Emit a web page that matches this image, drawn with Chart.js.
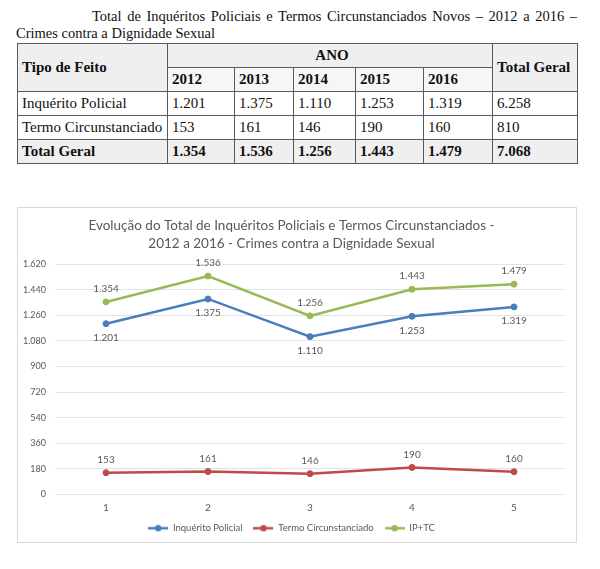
<!DOCTYPE html>
<html>
<head>
<meta charset="utf-8">
<script src="https://cdn.jsdelivr.net/npm/chart.js@4.4.1/dist/chart.umd.min.js"></script>
<style>
  body { margin: 0; background: #fff; width: 600px; height: 569px; position: relative; overflow: hidden; }
  #cap { position: absolute; left: 16px; top: 8px; width: 561px; font: 14.5px "Liberation Serif", serif; color: #111; line-height: 17px; }
  #cap .l1 { text-align: justify; text-align-last: justify; padding-left: 76px; }
  table { position: absolute; left: 17px; top: 43px; width: 560px; border-collapse: collapse; table-layout: fixed; font: 15px "Liberation Serif", serif; color: #111; }
  td, th { border: 1px solid #5a5a5a; height: 24px; padding: 0 0 0 4px; text-align: left; font-weight: normal; box-sizing: border-box; }
  th, tr.tot td { background: #efefef; font-weight: bold; }
  tr.yr th { background: #f6f6f6; }
  th.c { text-align: center; }
  #box { position: absolute; left: 17px; top: 207px; width: 558px; height: 334px; border: 1px solid #d9d9d9; }
</style>
</head>
<body>
<div id="cap">
  <div class="l1">Total de Inquéritos Policiais e Termos Circunstanciados Novos – 2012 a 2016 –</div>
  <div>Crimes contra a Dignidade Sexual</div>
</div>
<table id="tbl"></table>
<div id="box"><canvas id="chart"></canvas></div>
<script>
// Table and chart data
const years = ["2012", "2013", "2014", "2015", "2016"];
const xLabels = ["1", "2", "3", "4", "5"];
const inquerito = [1201, 1375, 1110, 1253, 1319];
const termo = [153, 161, 146, 190, 160];
const total = [1354, 1536, 1256, 1443, 1479];
const rowTotals = [6258, 810, 7068];
const yTicks = [0, 180, 360, 540, 720, 900, 1080, 1260, 1440, 1620];

const GRAY = "#595959";
const FONT = "Lato";

function fmt(v) {
    return String(v).replace(/\B(?=(\d{3})+(?!\d))/g, ".");
}

// build the table
(function buildTable() {
    const colW = [150, 67, 59, 62, 68, 69, 85];
    let h = '<colgroup>' + colW.map(w => `<col style="width:${w}px">`).join("") + '</colgroup>';
    h += '<tr><th rowspan="2">Tipo de Feito</th><th class="c" colspan="5">ANO</th><th rowspan="2">Total Geral</th></tr>';
    h += '<tr class="yr">' + years.map(y => `<th>${y}</th>`).join("") + '</tr>';
    const rows = [["Inquérito Policial", inquerito, rowTotals[0], ""],
                  ["Termo Circunstanciado", termo, rowTotals[1], ""],
                  ["Total Geral", total, rowTotals[2], "tot"]];
    for (const [name, vals, t, cls] of rows) {
        h += `<tr class="${cls}"><td>${name}</td>` + vals.map(v => `<td>${fmt(v)}</td>`).join("") + `<td>${fmt(t)}</td></tr>`;
    }
    document.getElementById("tbl").innerHTML = h;
})();

function legendIcon(color) {
    const c = document.createElement("canvas");
    c.width = 20; c.height = 8;
    const g = c.getContext("2d");
    g.strokeStyle = color; g.lineWidth = 2.5;
    g.beginPath(); g.moveTo(0, 4); g.lineTo(20, 4); g.stroke();
    g.fillStyle = color;
    g.beginPath(); g.arc(10, 4, 3.2, 0, Math.PI * 2); g.fill();
    return c;
}

// value labels above / below each point
const valueLabels = {
    id: "valueLabels",
    afterDatasetsDraw(chart) {
        const ctx = chart.ctx;
        ctx.save();
        ctx.font = `10px ${FONT}, sans-serif`;
        ctx.fillStyle = GRAY;
        ctx.textAlign = "center";
        ctx.textBaseline = "middle";
        chart.data.datasets.forEach((ds, i) => {
            const meta = chart.getDatasetMeta(i);
            meta.data.forEach((pt, j) => {
                const dy = ds.labelBelow ? 14 : -13;
                ctx.fillText(fmt(ds.data[j]), pt.x, pt.y + dy);
            });
        });
        ctx.restore();
    }
};

const series = [
    { label: "Inquérito Policial", data: inquerito, color: "#4a7ebb", below: true },
    { label: "Termo Circunstanciado", data: termo, color: "#be4b48", below: false },
    { label: "IP+TC", data: total, color: "#98b954", below: false }
];

new Chart(document.getElementById("chart"), {
    type: "line",
    data: {
        labels: xLabels,
        datasets: series.map(s => ({
            label: s.label,
            data: s.data,
            borderColor: s.color,
            backgroundColor: s.color,
            pointBackgroundColor: s.color,
            pointBorderColor: s.color,
            pointStyle: "circle",
            pointRadius: 3,
            pointBorderWidth: 1,
            borderWidth: 2.5,
            tension: 0,
            labelBelow: s.below
        }))
    },
    options: {
        responsive: true,
        maintainAspectRatio: false,
        animation: false,
        layout: { padding: { left: 0, right: 11, top: 4, bottom: -1 } },
        plugins: {
            title: {
                display: true,
                text: ["Evolução do Total de Inquéritos Policiais e Termos Circunstanciados -",
                       "2012 a 2016 - Crimes contra a Dignidade Sexual"],
                color: GRAY,
                font: { family: FONT, size: 13.5, weight: "normal", lineHeight: 1.3 },
                padding: { top: 5, bottom: 12 }
            },
            legend: {
                position: "bottom",
                labels: {
                    color: GRAY,
                    font: { family: FONT, size: 9.5 },
                    usePointStyle: true,
                    pointStyleWidth: 20,
                    boxHeight: 8,
                    padding: 11,
                    generateLabels: (chart) => chart.data.datasets.map((ds, i) => ({
                        text: ds.label,
                        pointStyle: legendIcon(series[i].color),
                        fontColor: GRAY,
                        datasetIndex: i,
                        lineWidth: 0,
                        strokeStyle: "transparent",
                        fillStyle: "transparent"
                    }))
                }
            },
            tooltip: { enabled: false }
        },
        scales: {
            x: {
                type: "category",
                offset: true,
                grid: { display: false, drawTicks: false },
                border: { display: false },
                ticks: { color: GRAY, font: { family: FONT, size: 10 }, padding: 7 },
                afterFit: (axis) => { axis.height = 18; }
            },
            y: {
                min: 0,
                max: 1620,
                afterBuildTicks: (axis) => { axis.ticks = yTicks.map(v => ({ value: v })); },
                afterFit: (axis) => { axis.width = 37; },
                grid: { color: "#e3e3e3", lineWidth: 1, drawTicks: false },
                border: { display: false },
                ticks: {
                    color: GRAY,
                    font: { family: FONT, size: 9 },
                    padding: 9,
                    callback: (v) => fmt(v)
                }
            }
        }
    },
    plugins: [valueLabels]
});
</script>
</body>
</html>
